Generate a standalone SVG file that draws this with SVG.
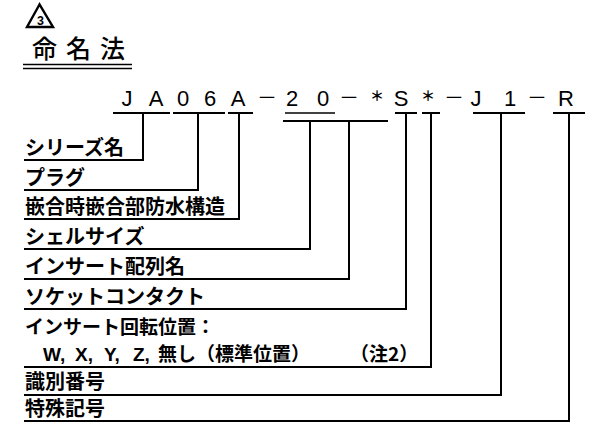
<svg xmlns="http://www.w3.org/2000/svg" width="592" height="423" viewBox="0 0 592 423">
<style>
.lbl{font-family:"Noto Sans CJK JP","Liberation Sans",sans-serif;font-size:20px;font-weight:bold;fill:#000}
.lat{font-family:"Liberation Sans","Noto Sans CJK JP",sans-serif;font-size:19px;font-weight:bold;fill:#000}
.code{font-family:"Liberation Sans","Noto Sans CJK JP",sans-serif;font-size:22px;fill:#000;text-anchor:middle}
.cjkc{font-family:"Noto Sans CJK JP",sans-serif;font-size:20px;fill:#000;text-anchor:middle}
.ast{font-family:"Noto Sans CJK JP",sans-serif;font-size:14px;font-weight:bold;fill:#000;text-anchor:middle}
.ln{stroke:#000;stroke-width:2;fill:none}
</style>
<rect width="592" height="423" fill="#fff"/>
<g id="title">
<polygon points="39.5,4.5 27,27 53,27" fill="none" stroke="#000" stroke-width="2.4"/>
<text x="40.5" y="24.5" font-family="Liberation Sans,sans-serif" font-size="12.5" font-weight="bold" text-anchor="middle">3</text>
<text x="32" y="58" font-family="Noto Sans CJK JP,sans-serif" font-size="25" font-weight="500" letter-spacing="9">命名法</text>
<line x1="23" y1="64.5" x2="132" y2="64.5" stroke="#000" stroke-width="1.5"/>
<line x1="23" y1="68.5" x2="132" y2="68.5" stroke="#000" stroke-width="1.5"/>
</g>
<g id="code">
<text class="code" y="106"><tspan x="127">J</tspan><tspan x="156">A</tspan><tspan x="183">0</tspan><tspan x="210">6</tspan><tspan x="238">A</tspan><tspan x="292">2</tspan><tspan x="323">0</tspan><tspan x="401">S</tspan><tspan x="476">J</tspan><tspan x="510">1</tspan><tspan x="566">R</tspan></text>
<text class="cjkc" y="105"><tspan x="267">－</tspan><tspan x="349">－</tspan><tspan x="454">－</tspan><tspan x="537">－</tspan></text>
<text class="ast" y="101"><tspan x="377">＊</tspan><tspan x="428">＊</tspan></text>
</g>
<g id="connectors" class="ln">
<line x1="113" y1="113" x2="170" y2="113"/>
<line x1="173" y1="113" x2="225" y2="113"/>
<line x1="228" y1="113" x2="253" y2="113"/>
<line x1="285" y1="113" x2="335" y2="113" stroke-width="1.5"/>
<line x1="283" y1="121" x2="388" y2="121"/>
<line x1="395" y1="113" x2="417" y2="113"/>
<line x1="422" y1="113" x2="440" y2="113"/>
<line x1="473" y1="113" x2="525" y2="113"/>
<line x1="553" y1="113" x2="585" y2="113"/>
<polyline points="143,113 143,160 24,160"/>
<polyline points="198,113 198,190 24,190"/>
<polyline points="239,113 239,219 24,219"/>
<polyline points="310,121 310,249 24,249"/>
<polyline points="349,121 349,279 24,279"/>
<polyline points="406,113 406,309 24,309"/>
<polyline points="431,113 431,367 24,367"/>
<polyline points="501,113 501,395 24,395"/>
<polyline points="569,113 569,421 24,421"/>
</g>
<g id="series"><text class="lbl" x="25" y="155">シリーズ名</text></g>
<g id="plug"><text class="lbl" x="25" y="185">プラグ</text></g>
<g id="waterproof"><text class="lbl" x="25" y="214">嵌合時嵌合部防水構造</text></g>
<g id="shell"><text class="lbl" x="25" y="244">シェルサイズ</text></g>
<g id="insert"><text class="lbl" x="25" y="274">インサート配列名</text></g>
<g id="socket"><text class="lbl" x="25" y="304">ソケットコンタクト</text></g>
<g id="rotation">
<text class="lbl" x="25" y="334" style="font-size:19px">インサート回転位置：</text>
<text class="lat" y="361"><tspan x="43">W,</tspan><tspan x="75">X,</tspan><tspan x="104">Y,</tspan><tspan x="133">Z,</tspan></text>
<text class="lbl" y="361" style="font-size:19px"><tspan x="158">無し（標準位置）</tspan><tspan x="350">（注2）</tspan></text>
</g>
<g id="ident"><text class="lbl" x="25" y="389">識別番号</text></g>
<g id="special"><text class="lbl" x="25" y="416">特殊記号</text></g>
</svg>
